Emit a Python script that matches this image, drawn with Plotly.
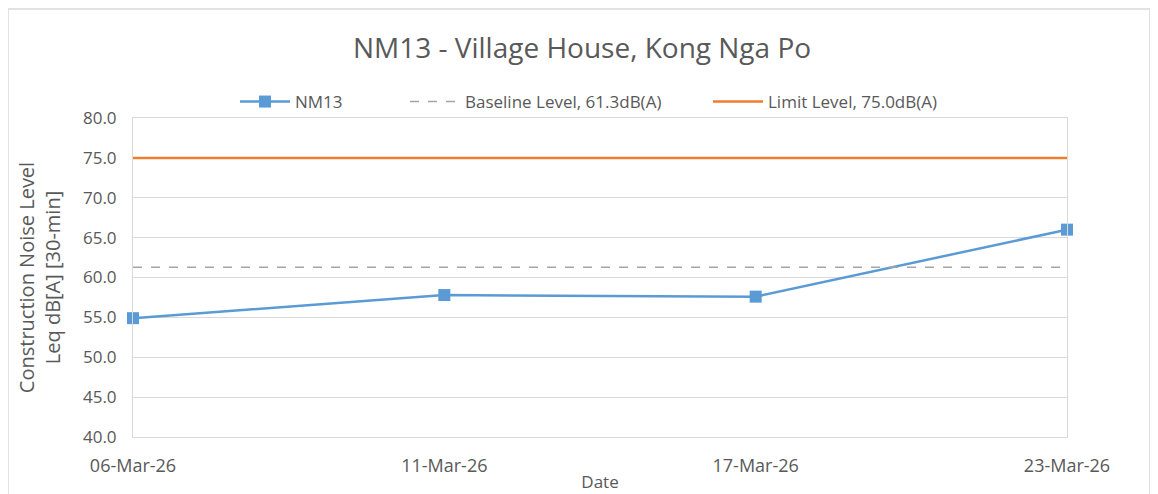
import plotly.graph_objects as go

dates = ["06-Mar-26", "11-Mar-26", "17-Mar-26", "23-Mar-26"]
nm13 = [54.9, 57.8, 57.6, 66.0]
baseline_value = 61.3
limit_value = 75.0
baseline = [baseline_value] * len(dates)
limit = [limit_value] * len(dates)
y_ticks = [40, 45, 50, 55, 60, 65, 70, 75, 80]

# page body adds an 8px offset, so the figure is sized/placed to compensate
W, H = 1150, 486
ml, mt = 125, 110
pw, ph = 934, 319
mr, mb = W - ml - pw, H - mt - ph

xs = list(range(len(dates)))

fig = go.Figure()
fig.add_trace(go.Scatter(
    x=xs, y=nm13, name="NM13", mode="lines+markers",
    line=dict(color="#5b9bd5", width=2.5),
    marker=dict(symbol="square", size=12, color="#5b9bd5"),
    legend="legend", cliponaxis=False,
))
fig.add_trace(go.Scatter(
    x=xs, y=baseline, name="Baseline Level, 61.3dB(A)", mode="lines",
    line=dict(color="#a5a5a5", width=1.5, dash="dash"),
    legend="legend2",
))
fig.add_trace(go.Scatter(
    x=xs, y=limit, name="Limit Level, 75.0dB(A)", mode="lines",
    line=dict(color="#ed7d31", width=2.5),
    legend="legend3",
))

font_col = "#595959"
leg_y = 1 + 16 / ph


def legend_at(window_x):
    return dict(orientation="h", x=(window_x - 8 - 5 - ml) / pw, xanchor="left",
                y=leg_y, yanchor="middle",
                font=dict(size=17, color=font_col),
                bgcolor="rgba(0,0,0,0)", itemwidth=50)


fig.update_layout(
    width=W, height=H,
    margin=dict(l=ml, r=mr, t=mt, b=mb, autoexpand=False),
    paper_bgcolor="white", plot_bgcolor="white",
    font=dict(family="Open Sans, Calibri, sans-serif", color=font_col, size=16),
    title=dict(text="NM13 - Village House, Kong Nga Po", x=(582 - 8) / W, xanchor="center",
               y=1 - 40 / H, yanchor="middle",
               font=dict(size=28, color=font_col)),
    legend=legend_at(240),
    legend2=legend_at(410),
    legend3=legend_at(713),
    showlegend=True,
    xaxis=dict(
        range=[0, 3], tickmode="array", tickvals=xs, ticktext=dates,
        showgrid=False, showline=True, linecolor="#d9d9d9", linewidth=1, mirror=True,
        ticks="", zeroline=False, tickfont=dict(size=18, color=font_col),
        ticklabelstandoff=12,
        title=dict(text="Date", font=dict(size=17, color=font_col), standoff=0),
    ),
    yaxis=dict(
        range=[40, 80], tickmode="array", tickvals=y_ticks,
        ticktext=[f"{v:.1f}" for v in y_ticks],
        showgrid=True, gridcolor="#d9d9d9", gridwidth=1,
        showline=True, linecolor="#d9d9d9", linewidth=1, mirror=True,
        ticks="", zeroline=False, tickfont=dict(size=17, color=font_col),
        ticklabelstandoff=12,
        title=dict(text="Construction Noise Level<br>Leq dB[A] [30-min]",
                   font=dict(size=20, color=font_col), standoff=16),
    ),
)

# outer chart border
x0 = (0 - ml) / pw
x1 = (1142 - ml) / pw
y1 = (H - mb - 1) / ph
y0 = (H - mb - 490) / ph
fig.add_shape(type="rect", xref="paper", yref="paper", x0=x0, x1=x1, y0=y0, y1=y1,
              line=dict(color="#d9d9d9", width=1.5), layer="below")

fig.write_html("out.html")
